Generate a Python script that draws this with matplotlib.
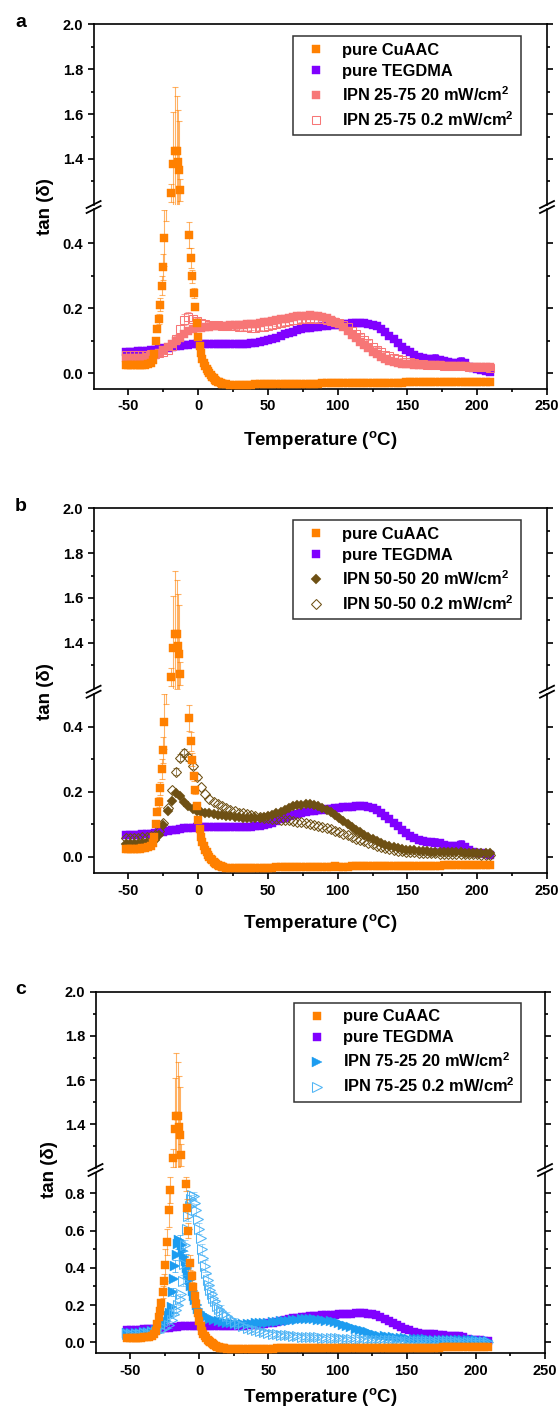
import matplotlib
matplotlib.use("Agg")
import matplotlib.pyplot as plt
from matplotlib.lines import Line2D
from matplotlib.ticker import FixedLocator, FormatStrFormatter

plt.rcParams['font.family'] = ['Liberation Sans', 'DejaVu Sans']
plt.rcParams['font.weight'] = 'bold'
plt.rcParams['mathtext.fontset'] = 'custom'
plt.rcParams['mathtext.rm'] = 'Liberation Sans:bold'
plt.rcParams['mathtext.bf'] = 'Liberation Sans:bold'
plt.rcParams['mathtext.default'] = 'bf'
plt.rcParams['axes.unicode_minus'] = False

# ---------------------------------------------------------------- data
G3 = [-52, -49, -46, -43, -40, -37, -34, -31, -28, -25, -22, -19, -16, -13, -10, -7, -4, -1,
      2, 5, 8, 11, 14, 17, 20, 23, 26, 29, 32, 35, 38, 41, 44, 47, 50,
      53, 56, 59, 62, 65, 68, 71, 74, 77, 80, 83, 86, 89, 92, 95, 98, 101,
      104, 107, 110, 113, 116, 119, 122, 125, 128, 131, 134, 137, 140, 143, 146, 149, 152,
      155, 158, 161, 164, 167, 170, 173, 176, 179, 182, 185, 188, 191, 194, 197, 200, 203, 206, 209]

TEGDMA = [.066, .066, .067, .068, .069, .070, .071, .073, .075, .077, .079, .081, .083, .085, .087, .088, .089, .090,
          .090, .090, .090, .090, .090, .090, .090, .090, .090, .090, .090, .091, .092, .093, .095, .098, .101,
          .105, .110, .115, .120, .124, .128, .132, .135, .138, .140, .142, .143, .145, .146, .148, .149, .150,
          .152, .153, .154, .155, .155, .155, .153, .150, .144, .136, .126, .115, .104, .093, .082, .072, .064,
          .057, .051, .047, .045, .044, .043, .041, .037, .034, .033, .032, .036, .031, .020, .015, .012, .010, .007, .005]
TEG_ERR_T = [170, 188]
TEG_ERR = [0.015, 0.014]

CU_T = [-52, -50, -48, -46, -44, -42, -40, -38, -36, -34, -32.5, -31.5, -30.6, -29.4, -28.2, -27.3, -26.3,
        -25.4, -24.4, -23.2, -22, -20.8, -19.2, -17.8, -16.5, -15.5, -14.6, -13.9, -12.9, -9.8, -9.0, -8.0,
        -6.4, -5.2, -4.2, -3.2, -2.2, -1.1, 0, 1, 2, 3, 4, 5, 6, 7, 8, 9, 10, 11, 12, 13, 14, 15, 16, 17, 18,
        20, 23, 26, 29, 32, 35, 38, 41, 44, 47, 50, 53, 56, 59, 62, 65, 68, 71, 74, 77, 80, 83, 86, 89, 92,
        95, 98, 101, 104, 107, 110, 113, 116, 119, 122, 125, 128, 131, 134, 137, 140, 143, 146, 149, 152,
        155, 158, 161, 164, 167, 170, 173, 176, 179, 182, 185, 188, 191, 194, 197, 200, 203, 206, 209]
CU_V = [.024, .024, .024, .024, .025, .025, .026, .027, .029, .033, .042, .060, .100, .137, .168, .211, .270,
        .327, .416, .540, .710, .820, 1.247, 1.378, 1.437, 1.437, 1.387, 1.350, 1.262, .850, .720, .600,
        .427, .355, .298, .247, .204, .155, .112, .085, .062, .045, .032, .022, .013, .006, .000, -.006, -.011,
        -.016, -.020, -.023, -.026, -.028, -.030, -.032, -.033,
        -.034, -.035, -.035, -.035, -.035, -.035, -.035, -.034, -.034, -.034, -.034, -.034, -.033, -.033,
        -.033, -.033, -.033, -.033, -.032, -.032, -.032, -.032, -.032, -.031, -.031, -.031, -.030, -.031,
        -.031, -.031, -.030, -.030, -.030, -.030, -.030, -.030, -.029, -.029, -.029, -.029, -.029, -.029,
        -.029, -.028, -.028, -.028, -.028, -.028, -.028, -.028, -.028, -.028, -.027, -.027, -.027, -.027,
        -.027, -.027, -.027, -.027, -.026, -.026, -.026, -.026]
CU_ERR_T = [-29.4, -28.2, -27.3, -26.3, -25.4, -24.4, -23.2, -22, -20.8, -19.2, -17.8, -16.5, -15.5,
            -14.6, -13.9, -12.9, -9.8, -9.0, -8.0, -6.4, -5.2, -4.2, -3.2, -2.2]
CU_ERR = [.010, .015, .020, .030, .040, .085, .070, .090, .070, .040, .230, .285, .245,
          .230, .220, .050, .040, .050, .040, .040, .030, .020, .015, .010]

IPN25_20 = [.046, .046, .047, .047, .048, .050, .052, .056, .062, .071, .080, .089, .098, .110, .122, .131, .136, .138,
            .139, .141, .143, .144, .145, .146, .147, .148, .148, .149, .150, .151, .152, .153, .155, .157, .159,
            .161, .164, .166, .168, .171, .173, .175, .176, .177, .178, .177, .176, .173, .170, .165, .159, .152,
            .142, .131, .119, .108, .097, .087, .077, .067, .058, .050, .044, .039, .035, .032, .030, .029, .028,
            .027, .026, .026, .025, .025, .024, .024, .023, .023, .022, .022, .021, .021, .020, .020, .019, .019, .018, .018]
IPN25_02 = [.055, .055, .055, .056, .056, .057, .058, .059, .061, .065, .072, .085, .105, .135, .165, .174, .168, .160,
            .155, .152, .150, .149, .148, .147, .146, .145, .144, .143, .142, .141, .140, .140, .141, .143, .146,
            .149, .152, .155, .158, .160, .163, .165, .167, .168, .169, .168, .167, .166, .164, .162, .159, .156,
            .150, .141, .131, .121, .112, .102, .093, .082, .072, .064, .057, .052, .047, .043, .040, .036, .034,
            .032, .030, .028, .027, .026, .025, .024, .023, .023, .022, .022, .021, .021, .020, .020, .020, .019, .018, .016]
IPN25_02_ERR_T = [-16, -13, -10, -7, -4, -1, 2, 8, 14, 20, 26, 32, 38, 44, 50, 56, 62, 68, 74, 80, 86,
                  92, 98, 104, 110, 116, 122, 128, 134, 140, 146, 152, 158, 164, 170, 176, 182, 188, 194, 200, 206]
IPN25_02_ERR = [.010, .015, .016, .014, .012, .010, .010, .008, .008, .008, .008, .008, .008, .008, .008, .008,
                .009, .010, .010, .010, .010, .010, .010, .010, .010, .010, .010, .010, .008, .008, .008, .008,
                .008, .008, .008, .008, .008, .008, .008, .008, .008]

IPN50_20 = [.040, .040, .040, .040, .041, .042, .045, .050, .068, .098, .140, .172, .195, .188, .168, .155, .146, .140,
            .137, .135, .133, .131, .129, .127, .126, .124, .123, .121, .120, .119, .118, .118, .119, .121, .124,
            .128, .133, .139, .145, .150, .155, .158, .160, .162, .162, .160, .157, .151, .145, .137, .129, .120,
            .110, .100, .091, .083, .075, .067, .060, .054, .048, .042, .037, .033, .029, .026, .024, .022, .021,
            .020, .019, .018, .017, .016, .016, .015, .015, .014, .014, .013, .013, .012, .012, .011, .011, .011, .010, .010]
IPN50_02 = [.058, .058, .058, .059, .060, .061, .063, .067, .080, .105, .150, .205, .262, .305, .318, .306, .280, .245,
            .213, .193, .179, .169, .161, .155, .150, .145, .140, .136, .133, .130, .127, .124, .122, .120, .118,
            .117, .116, .114, .113, .112, .110, .108, .106, .104, .101, .098, .095, .092, .088, .084, .080, .076,
            .071, .066, .061, .056, .051, .047, .042, .038, .034, .030, .027, .024, .021, .019, .017, .015, .014,
            .013, .012, .011, .011, .010, .010, .009, .009, .009, .008, .008, .008, .008, .008, .007, .007, .006, .005, .004]
IPN50_02_ERR_T = [-16, -13, -10, -7, -4, -1]
IPN50_02_ERR = [.010, .012, .012, .010, .010, .008]

IPN75_20_T = [-52, -49, -46, -43, -40, -37, -34, -31, -28, -26, -24, -22, -21, -20, -19, -18, -17.2, -16.4,
              -15.5, -14.6, -13.7, -12.8, -11.8, -10.8, -9.8, -8.8, -7.8, -6.8, -5.8, -4.8, -3.8, -2.8, -1.8,
              -0.8, 0.5, 2, 3.5, 5, 8, 11, 14, 17, 20, 23, 26, 29, 32, 35, 38, 41, 44, 47, 50,
              53, 56, 59, 62, 65, 68, 71, 74, 77, 80, 83, 86, 89, 92, 95, 98, 101,
              104, 107, 110, 113, 116, 119, 122, 125, 128, 131, 134, 137, 140, 143, 146, 149, 152,
              155, 158, 161, 164, 167, 170, 173, 176, 179, 182, 185, 188, 191, 194, 197, 200, 203, 206, 209]
IPN75_20 = [.050, .050, .051, .052, .054, .056, .060, .066, .078, .092, .112, .140, .158, .190, .270, .340, .410, .470,
            .530, .550, .545, .520, .490, .460, .435, .400, .365, .335, .300, .275, .250, .225, .200,
            .180, .163, .152, .144, .137, .127, .119, .113, .108, .104, .101, .099, .098, .098, .099, .100, .101, .102, .104, .106,
            .108, .110, .112, .115, .117, .119, .121, .123, .124, .124, .124, .122, .120, .117, .113, .108, .102,
            .095, .088, .080, .073, .066, .059, .053, .047, .041, .036, .032, .029, .026, .024, .022, .021, .020,
            .019, .018, .017, .016, .015, .015, .014, .014, .013, .013, .012, .012, .011, .011, .010, .010, .009, .009, .008]
IPN75_20_ERR_T = [-19, -17.2, -15.5, -13.7, -11.8, -9.8, -7.8, -5.8]
IPN75_20_ERR = [.020, .030, .030, .030, .030, .040, .030, .020]

IPN75_02_T = [-52, -49, -46, -43, -40, -37, -34, -31, -28, -25, -22, -20, -18.5, -17, -15.5, -14, -13, -12, -11,
              -10, -9, -8, -7, -6, -5, -4, -3, -2, -1, 0, 1, 2, 3, 4, 5, 6, 7, 8, 9, 10, 11.5, 13, 14.5, 16, 18,
              20, 23, 26, 29, 32, 35, 38, 41, 44, 47, 50,
              53, 56, 59, 62, 65, 68, 71, 74, 77, 80, 83, 86, 89, 92, 95, 98, 101,
              104, 107, 110, 113, 116, 119, 122, 125, 128, 131, 134, 137, 140, 143, 146, 149, 152,
              155, 158, 161, 164, 167, 170, 173, 176, 179, 182, 185, 188, 191, 194, 197, 200, 203, 206, 209]
IPN75_02 = [.045, .045, .046, .047, .048, .050, .053, .057, .064, .076, .095, .120, .150, .175, .200, .230, .260, .330, .420,
            .520, .610, .680, .730, .770, .790, .785, .750, .710, .660, .610, .560, .500, .450, .410, .370, .335, .305, .280, .260, .240, .220, .195, .180, .168, .152,
            .140, .125, .110, .097, .087, .078, .071, .065, .059, .054, .050,
            .047, .044, .041, .039, .037, .035, .033, .031, .030, .029, .028, .026, .025, .024, .023, .022, .021,
            .020, .019, .018, .017, .016, .015, .014, .013, .012, .012, .011, .011, .010, .010, .009, .009, .008,
            .008, .008, .007, .007, .007, .006, .006, .006, .005, .005, .005, .004, .004, .004, .003, .003, .003, .002, .002]
IPN75_02_ERR_T = [-52, -46, -40, -34, -28, -22, -17, -14, -12, -10, -8, -6, -4, -2, 0, 2, 4, 6, 8, 10, 13, 16, 20,
                  26, 32, 38, 44, 50, 56, 62, 68, 74, 80, 86, 92, 98, 104, 110, 116, 122, 128, 134, 140, 146,
                  152, 158, 164, 170, 176, 182, 188, 194, 200, 206]
IPN75_02_ERR = [.018, .018, .018, .015, .015, .020, .030, .030, .030, .030, .030, .020, .020, .030, .030, .030, .030,
                .030, .030, .030, .030, .030, .025, .020, .020, .018, .018, .015, .015, .015, .015, .015, .015, .015,
                .015, .015, .015, .012, .012, .012, .012, .012, .012, .012, .012, .012, .012, .012, .012, .012, .012,
                .012, .012, .012]

X_MAJOR = [-50, 0, 50, 100, 150, 200, 250]
X_MINOR = [-25, 25, 75, 125, 175, 225]
UP_MAJOR = [1.4, 1.6, 1.8, 2.0]
UP_MINOR = [1.3, 1.5, 1.7, 1.9]
LOW_MAJOR_AB = [0.0, 0.2, 0.4]
LOW_MINOR_AB = [0.1, 0.3]
LOW_MAJOR_C = [0.0, 0.2, 0.4, 0.6, 0.8]
LOW_MINOR_C = [0.1, 0.3, 0.5, 0.7]

LABEL_CU = 'pure CuAAC'
LABEL_TEG = 'pure TEGDMA'
LABELS_IPN = {
    'a': ('IPN 25-75 20 mW/cm$^{2}$', 'IPN 25-75 0.2 mW/cm$^{2}$'),
    'b': ('IPN 50-50 20 mW/cm$^{2}$', 'IPN 50-50 0.2 mW/cm$^{2}$'),
    'c': ('IPN 75-25 20 mW/cm$^{2}$', 'IPN 75-25 0.2 mW/cm$^{2}$'),
}

for _a, _b in [(G3, TEGDMA), (G3, IPN25_20), (G3, IPN25_02), (G3, IPN50_20), (G3, IPN50_02),
               (CU_T, CU_V), (IPN75_20_T, IPN75_20), (IPN75_02_T, IPN75_02),
               (CU_ERR_T, CU_ERR), (IPN25_02_ERR_T, IPN25_02_ERR), (IPN75_02_ERR_T, IPN75_02_ERR),
               (IPN75_20_ERR_T, IPN75_20_ERR)]:
    assert len(_a) == len(_b), (len(_a), len(_b))

# ---------------------------------------------------------------- style
C_CU = '#FF8000'
C_TEG = '#8000FF'
C_25 = '#F77676'
C_50 = '#6E5014'
C_75F = '#1C9CF0'
C_75O = '#4FB4F5'

MS_SQ = 5.7
MS_D = 5.4
MS_TRI = 6.6

W, H = 560, 1412
fig = plt.figure(figsize=(W / 100, H / 100), dpi=100)


def fx(x):
    return x / W


def fy(y):
    return 1 - y / H


def scatter(ax, T, V, marker, color, filled, ms, z):
    if filled:
        ax.plot(T, V, ls='none', marker=marker, ms=ms, mfc=color, mec=color, mew=0.3, zorder=z, clip_on=True)
    else:
        ax.plot(T, V, ls='none', marker=marker, ms=ms, mfc='none', mec=color, mew=0.75, zorder=z, clip_on=True)


def errs(ax, T, V, ET, E, color, z, lw=0.7, cap=2.4, alpha=0.75):
    ys = [V[T.index(t)] for t in ET]
    ax.errorbar(ET, ys, yerr=E, fmt='none', ecolor=color, elinewidth=lw, capsize=cap,
                capthick=lw, alpha=alpha, zorder=z)


PANELS = [
    dict(key='a', left=93.6, right=547.0, top=24.3, brk=207.0, bottom=389.0, y0=373.3, sl=325.0, su=224.5,
         ylab_x=46, leg_left=293, leg_top=36, xlab_y=440),
    dict(key='b', left=93.6, right=547.0, top=508.3, brk=691.7, bottom=873.3, y0=856.7, sl=325.0, su=224.0,
         ylab_x=46, leg_left=293, leg_top=520, xlab_y=923),
    dict(key='c', left=95.5, right=545.0, top=991.7, brk=1170.0, bottom=1353.3, y0=1342.3, sl=186.25, su=221.0,
         ylab_x=49, leg_left=293.6, leg_top=1002.7, xlab_y=1397),
]

GAP = 2.5
TICK_FS = 10.5
for P in PANELS:
    k = P['key']
    l, r, t, b, brk = P['left'], P['right'], P['top'], P['bottom'], P['brk']
    ax_up = fig.add_axes([fx(l), fy(brk - GAP), fx(r - l), (brk - GAP - t) / H])
    ax_lo = fig.add_axes([fx(l), fy(b), fx(r - l), (b - brk - GAP) / H])
    up_lo = 2.0 - (brk - GAP - t) / P['su']
    ax_up.set_ylim(up_lo, 2.0)
    ax_lo.set_ylim((P['y0'] - b) / P['sl'], (P['y0'] - (brk + GAP)) / P['sl'])

    for ax in (ax_up, ax_lo):
        ax.set_xlim(-75, 250)
        for s in ax.spines.values():
            s.set_linewidth(1.2)
        scatter(ax, G3, TEGDMA, 's', C_TEG, True, MS_SQ, 2)
        errs(ax, G3, TEGDMA, TEG_ERR_T, TEG_ERR, C_TEG, 1.9)
        if k == 'a':
            scatter(ax, G3, IPN25_20, 's', C_25, True, MS_SQ, 3)
            scatter(ax, G3, IPN25_02, 's', C_25, False, MS_SQ, 4)
            errs(ax, G3, IPN25_02, IPN25_02_ERR_T, IPN25_02_ERR, C_25, 3.9, lw=0.6)
        elif k == 'b':
            scatter(ax, G3, IPN50_20, 'D', C_50, True, MS_D, 3)
            scatter(ax, G3, IPN50_02, 'D', C_50, False, MS_D, 4)
            errs(ax, G3, IPN50_02, IPN50_02_ERR_T, IPN50_02_ERR, C_50, 3.9, lw=0.6)
        else:
            scatter(ax, IPN75_20_T, IPN75_20, '>', C_75F, True, MS_TRI, 3)
            errs(ax, IPN75_20_T, IPN75_20, IPN75_20_ERR_T, IPN75_20_ERR, C_75F, 2.9, lw=0.6)
            scatter(ax, IPN75_02_T, IPN75_02, '>', C_75O, False, MS_TRI, 4)
            errs(ax, IPN75_02_T, IPN75_02, IPN75_02_ERR_T, IPN75_02_ERR, C_75O, 3.9, lw=0.5)
        scatter(ax, CU_T, CU_V, 's', C_CU, True, MS_SQ, 6)
        errs(ax, CU_T, CU_V, CU_ERR_T, CU_ERR, C_CU, 5.9, lw=0.8, alpha=0.6)

        ax.tick_params(axis='y', which='both', direction='out', left=True, right=True,
                       labelleft=True, labelright=False, width=1.2, labelsize=TICK_FS, pad=3)
        ax.tick_params(axis='y', which='major', length=4.5)
        ax.tick_params(axis='y', which='minor', length=2.5)
        ax.yaxis.set_major_formatter(FormatStrFormatter('%.1f'))

    ax_up.spines['bottom'].set_visible(False)
    ax_lo.spines['top'].set_visible(False)
    ax_up.tick_params(axis='x', which='both', bottom=False, top=False, labelbottom=False)
    ax_lo.tick_params(axis='x', which='both', direction='out', bottom=True, top=False, width=1.2,
                      labelsize=TICK_FS, pad=3)
    ax_lo.tick_params(axis='x', which='major', length=4.5)
    ax_lo.tick_params(axis='x', which='minor', length=2.5)
    ax_lo.xaxis.set_major_locator(FixedLocator(X_MAJOR))
    ax_lo.xaxis.set_minor_locator(FixedLocator(X_MINOR))
    ax_up.yaxis.set_major_locator(FixedLocator(UP_MAJOR))
    ax_up.yaxis.set_minor_locator(FixedLocator(UP_MINOR))
    if k == 'c':
        ax_lo.yaxis.set_major_locator(FixedLocator(LOW_MAJOR_C))
        ax_lo.yaxis.set_minor_locator(FixedLocator(LOW_MINOR_C))
    else:
        ax_lo.yaxis.set_major_locator(FixedLocator(LOW_MAJOR_AB))
        ax_lo.yaxis.set_minor_locator(FixedLocator(LOW_MINOR_AB))
    for lab in ax_lo.get_xticklabels() + ax_lo.get_yticklabels() + ax_up.get_yticklabels():
        lab.set_fontweight('bold')

    # break marks
    for xx in (l, r):
        for dy in (-GAP, GAP):
            fig.add_artist(Line2D([fx(xx - 7), fx(xx + 7)], [fy(brk + dy + 3.5), fy(brk + dy - 3.5)],
                                  color='black', lw=1.3, transform=fig.transFigure))

    # legend
    if k == 'a':
        h3 = Line2D([], [], ls='none', marker='s', ms=MS_SQ, mfc=C_25, mec=C_25, mew=0.3)
        h4 = Line2D([], [], ls='none', marker='s', ms=MS_SQ, mfc='none', mec=C_25, mew=0.75)
    elif k == 'b':
        h3 = Line2D([], [], ls='none', marker='D', ms=MS_D, mfc=C_50, mec=C_50, mew=0.3)
        h4 = Line2D([], [], ls='none', marker='D', ms=MS_D, mfc='none', mec=C_50, mew=0.75)
    else:
        h3 = Line2D([], [], ls='none', marker='>', ms=MS_TRI, mfc=C_75F, mec=C_75F, mew=0.3)
        h4 = Line2D([], [], ls='none', marker='>', ms=MS_TRI, mfc='none', mec=C_75O, mew=0.75)
    h1 = Line2D([], [], ls='none', marker='s', ms=MS_SQ, mfc=C_CU, mec=C_CU, mew=0.3)
    h2 = Line2D([], [], ls='none', marker='s', ms=MS_SQ, mfc=C_TEG, mec=C_TEG, mew=0.3)
    leg = ax_up.legend([h1, h2, h3, h4], [LABEL_CU, LABEL_TEG] + list(LABELS_IPN[k]),
                       loc='upper left', bbox_to_anchor=(fx(P['leg_left']), fy(P['leg_top'])),
                       bbox_transform=fig.transFigure, borderaxespad=0, frameon=True, fancybox=False,
                       edgecolor='black', prop=dict(size=11.8, weight='bold'), handlelength=2.0,
                       handletextpad=0.6, labelspacing=0.38, borderpad=0.4, numpoints=1)
    leg.get_frame().set_linewidth(1.1)
    leg.set_zorder(20)

    # labels
    fig.text(fx(21), fy(t - 2), k, fontsize=14, fontweight='bold', ha='center', va='center')
    fig.text(fx(P['ylab_x']), fy(brk), 'tan (δ)', fontsize=13.5, fontweight='bold', rotation=90,
             ha='center', va='center')
    fig.text(fx((l + r) / 2), fy(P['xlab_y']), 'Temperature ($^{o}$C)', fontsize=13.5, fontweight='bold',
             ha='center', va='center')

fig.savefig('out.png', dpi=100)
